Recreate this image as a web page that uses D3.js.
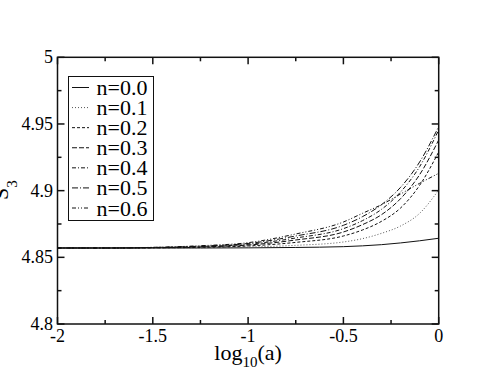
<!DOCTYPE html>
<html>
<head>
<meta charset="utf-8">
<script src="https://cdn.jsdelivr.net/npm/d3@7"></script>
<style>
  html, body { margin: 0; padding: 0; background: #fff; }
  svg { display: block; }
</style>
</head>
<body>
<svg id="chart" width="494" height="382"></svg>
<script>
// log10(a) sample points
var logA = [-2, -1.75, -1.5, -1.25, -1, -0.75, -0.5, -0.4, -0.3, -0.2, -0.1, 0];

// S_3 values, one array per n
var s3_n00 = [4.857, 4.857, 4.857, 4.857, 4.8571, 4.8574, 4.8580, 4.8586, 4.8595, 4.8608, 4.8624, 4.8643];
var s3_n01 = [4.857, 4.857, 4.857, 4.8572, 4.8577, 4.8590, 4.8615, 4.8640, 4.8680, 4.8735, 4.8830, 4.9005];
var s3_n02 = [4.857, 4.857, 4.8571, 4.8575, 4.8585, 4.8612, 4.8660, 4.8705, 4.8770, 4.8870, 4.9040, 4.9290];
var s3_n03 = [4.857, 4.857, 4.8572, 4.8578, 4.8592, 4.8630, 4.8690, 4.8745, 4.8820, 4.8940, 4.9120, 4.9380];
var s3_n04 = [4.857, 4.857, 4.8573, 4.8581, 4.8598, 4.8645, 4.8715, 4.8775, 4.8860, 4.8990, 4.9180, 4.9455];
var s3_n05 = [4.857, 4.857, 4.8574, 4.8584, 4.8604, 4.8660, 4.8740, 4.8805, 4.8895, 4.9025, 4.9215, 4.9480];
var s3_n06 = [4.857, 4.857, 4.8575, 4.8587, 4.8610, 4.8675, 4.8765, 4.8830, 4.8895, 4.8975, 4.9055, 4.9130];

var seriesNames = ["n=0.0", "n=0.1", "n=0.2", "n=0.3", "n=0.4", "n=0.5", "n=0.6"];
var seriesValues = [s3_n00, s3_n01, s3_n02, s3_n03, s3_n04, s3_n05, s3_n06];

var xTicks = [-2, -1.5, -1, -0.5, 0];
var xTickLabels = ["-2", "-1.5", "-1", "-0.5", "0"];
var xMinor = [-1.75, -1.25, -0.75, -0.25];
var yTicks = [4.8, 4.85, 4.9, 4.95, 5];
var yTickLabels = ["4.8", "4.85", "4.9", "4.95", "5"];
var yMinor = [4.825, 4.875, 4.925, 4.975];

var dashes = [null, "1,2", "3,2", "5,2", "4,2,1,2", "6,2,1,2", "4,2,1,2,1,2"];

var FONT = "'Liberation Serif', 'Times New Roman', Times, 'DejaVu Serif', serif";

var svg = d3.select("#chart");
var pLeft = 57.5, pRight = 438.7, pTop = 57.3, pBottom = 324;

var x = d3.scaleLinear().domain([-2, 0]).range([pLeft, pRight]);
var y = d3.scaleLinear().domain([4.8, 5]).range([pBottom, pTop]);

// curves
var line = d3.line()
  .x(function(d) { return x(d[0]); })
  .y(function(d) { return y(d[1]); })
  .curve(d3.curveMonotoneX);

var plot = svg.append("g");
seriesValues.forEach(function(vals, i) {
  var pts = logA.map(function(a, j) { return [a, vals[j]]; });
  plot.append("path")
    .attr("d", line(pts))
    .attr("fill", "none")
    .attr("stroke", i === 1 ? "#555" : "#111")
    .attr("stroke-width", 1)
    .attr("stroke-dasharray", dashes[i]);
});

// frame with inward ticks on all sides
var frame = svg.append("g").attr("stroke", "#111").attr("stroke-width", 1.5);
frame.append("rect")
  .attr("x", pLeft).attr("y", pTop)
  .attr("width", pRight - pLeft).attr("height", pBottom - pTop)
  .attr("fill", "none");

function xTick(v, len) {
  frame.append("line").attr("x1", x(v)).attr("x2", x(v)).attr("y1", pBottom).attr("y2", pBottom - len);
  frame.append("line").attr("x1", x(v)).attr("x2", x(v)).attr("y1", pTop).attr("y2", pTop + len);
}
function yTick(v, len) {
  frame.append("line").attr("y1", y(v)).attr("y2", y(v)).attr("x1", pLeft).attr("x2", pLeft + len);
  frame.append("line").attr("y1", y(v)).attr("y2", y(v)).attr("x1", pRight).attr("x2", pRight - len);
}
xTicks.forEach(function(v) { xTick(v, 7); });
xMinor.forEach(function(v) { xTick(v, 4); });
yTicks.forEach(function(v) { yTick(v, 7); });
yMinor.forEach(function(v) { yTick(v, 4); });

// tick labels
svg.append("g").selectAll("text").data(xTicks).enter().append("text")
  .attr("x", function(d) { return x(d); })
  .attr("y", 342)
  .attr("text-anchor", "middle")
  .attr("font-family", FONT)
  .attr("font-size", 18)
  .text(function(d, i) { return xTickLabels[i]; });

svg.append("g").selectAll("text").data(yTicks).enter().append("text")
  .attr("x", 53)
  .attr("y", function(d) { return y(d) + 6; })
  .attr("text-anchor", "end")
  .attr("font-family", FONT)
  .attr("font-size", 18)
  .text(function(d, i) { return yTickLabels[i]; });

// axis titles
var xl = svg.append("text")
  .attr("x", (pLeft + pRight) / 2)
  .attr("y", 360)
  .attr("text-anchor", "middle")
  .attr("font-family", FONT)
  .attr("font-size", 22);
xl.append("tspan").text("log");
xl.append("tspan").attr("font-size", 15).attr("dy", 7).text("10");
xl.append("tspan").attr("dy", -7).text("(a)");

var yl = svg.append("text")
  .attr("transform", "translate(8,190) rotate(-90)")
  .attr("text-anchor", "middle")
  .attr("font-family", FONT)
  .attr("font-size", 22);
yl.append("tspan").text("S");
yl.append("tspan").attr("font-size", 15).attr("dy", 9).text("3");

// legend
var legend = svg.append("g");
legend.append("rect")
  .attr("x", 68.5).attr("y", 76.5)
  .attr("width", 85).attr("height", 144)
  .attr("fill", "#fff")
  .attr("stroke", "#111").attr("stroke-width", 1);

var rowY = d3.scaleLinear().domain([0, 6]).range([87.5, 208]);
seriesNames.forEach(function(name, i) {
  legend.append("line")
    .attr("x1", 72).attr("x2", 89)
    .attr("y1", rowY(i)).attr("y2", rowY(i))
    .attr("stroke", i === 1 ? "#555" : "#111")
    .attr("stroke-width", 1)
    .attr("stroke-dasharray", dashes[i]);
  legend.append("text")
    .attr("x", 96.5)
    .attr("y", rowY(i) + 7.5)
    .attr("font-family", FONT)
    .attr("font-size", 22)
    .text(name);
});
</script>
</body>
</html>
